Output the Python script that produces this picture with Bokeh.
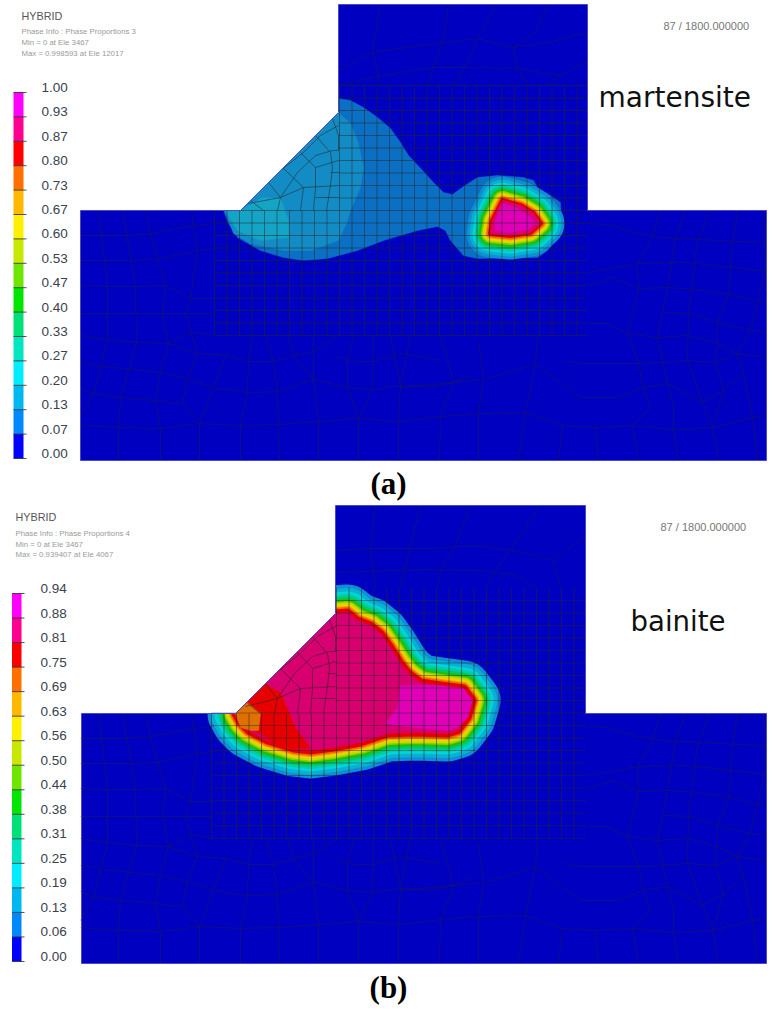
from bokeh.plotting import figure
from bokeh.embed import file_html
from bokeh.resources import INLINE
from bokeh.core.properties import value

# ---------- legend data ----------
LABELS_A = ["0.00","0.07","0.13","0.20","0.27","0.33","0.40","0.47","0.53","0.60","0.67","0.73","0.80","0.87","0.93","1.00"]
LABELS_B = ["0.00","0.06","0.13","0.19","0.25","0.31","0.38","0.44","0.50","0.56","0.63","0.69","0.75","0.81","0.88","0.94"]
LEVEL_COLORS = ["#0000ff","#0088ff","#00b8f0","#00ecff","#00e6c0","#00e078","#00e600","#6ee600",
                "#c8e800","#fff000","#ffb800","#ff7000","#ff0000","#ff0090","#ff00ff"]

# ---------- part outlines ----------
OUT_A = [(80,210),(240,210),(338,112),(338,4),(587,4),(587,210),(766,210),(766,460),(80,460)]
OUT_B = [(81,713),(235,713),(335,613),(335,505),(585,505),(585,713),(766,713),(766,963),(81,963)]
MASK_A = [(190,60),(338,60),(338,112),(240,210),(190,210)]
MASK_B = [(190,560),(335,560),(335,613),(235,713),(190,713)]

# ---------- phase fields ----------
BASE_A = [(338,98),(350,100),(363,107),(377,117),(390,128),(400,142),(408,155),(422,170),(433,182),(443,192),
          (452,194),(463,186),(477,177),(497,175),(523,177),(533,180),(537,187),(550,195),(560,202),(561,220),
          (558,237),(547,250),(537,257),(477,258),(463,255),(450,240),(445,230),(437,226),(417,230),(383,240),
          (357,250),(327,258),(303,260),(283,257),(260,250),(237,237),(228,223),(223,210),(240,210),(338,112)]
TONE2_A = [(338,112),(350,123),(358,143),(363,167),(360,187),(350,210),(346,223),(338,240),(310,250),(283,250),
           (250,243),(233,233),(225,211),(240,210)]
TONE3_A = [(240,210),(262,197),(280,198),(288,220),(288,237),(260,240),(237,230),(225,211)]
RIDGE_A = [(502,200),(520,205),(533,213),(540,223),(530,232),(510,235),(490,233),(492,220)]
PINK_CORE_A = [(502,203),(517,208),(530,217),(535,223),(527,229),(507,232),(495,230),(495,220)]
RIDGE_B = [(335,613),(347,612),(357,620),(370,625),(380,633),(390,647),(400,663),(408,673),(420,682),(440,685),
           (463,688),(472,700),(467,717),(457,730),(447,733),(413,732),(387,733),(360,742),(333,747),(310,750),
           (293,748),(267,740),(248,730),(240,722),(235,713)]
MAGENTA_B = [(400,685),(440,685),(463,688),(472,700),(467,717),(457,727),(447,730),(413,727),(385,723),(397,707)]
RED_B = [(248,700),(263,683),(280,692),(295,727),(310,748),(280,747),(260,733),(247,727),(243,713)]
ORANGE_B = [(235,713),(247,702),(260,713),(258,730),(250,730),(240,727)]

BAND_COLORS = ["#0f8ed0","#08b0d4","#00d4dc","#00cfa6","#00c868","#20c000","#80d000","#d0d800","#f0d000","#f0a000","#ee6a00","#e60000"]
BAND_REACH_A = [24,21,18,16,13.5,11.5,9.5,8,6.5,5,4,2.5]
BAND_REACH_B = [28,24.5,21,18.5,16,13.5,11.5,10,8,6.5,5.5,4]

# ---------- regular mesh ----------
GRID_H_A = [85,97.5,110,122.5,135,147.5,160,172.5,185,197.5,210,222.5,235,247.5,260,272.5,285,297.5,310,322.5,335]
GRID_V_A = [214,226.5,239,251.5,264,276.5,289,301.5,314,326.5,339,351.5,364,376.5,389,401.5,414,426.5,439,451.5,464,476.5,489,501.5,514,526.5,539,551.5,564,576.5]
GRID_H_B = [600,612.5,625,637.5,650,662.5,675,687.5,700,712.5,725,737.5,750,762.5,775,787.5,800,812.5,825,838]
GRID_V_B = [211,223.5,236,248.5,261,273.5,286,298.5,311,323.5,336,348.5,361,373.5,386,398.5,411,423.5,436,448.5,461,473.5,486,498.5,511,523.5,536,548.5,561,573.5]

# ---------- free mesh below and beside the block ----------
FREE = [
 [(80,235),(125,235),(150,233),(193,225),(213,223)],
 [(80,260),(128,260),(157,259),(197,250),(213,248)],
 [(80,285),(107,286),(135,286),(165,285),(190,298),(213,298)],
 [(80,313),(107,313),(135,313),(162,313),(185,313),(213,313)],
 [(80,335),(107,339),(135,342),(168,343),(190,331),(213,335)],
 [(168,343),(197,353),(225,355),(248,361),(273,361),(293,355),(313,351),(337,335)],
 [(337,357),(355,361),(373,361),(400,353),(440,360)],
 [(80,362),(102,366),(132,369),(160,372),(187,378),(213,387),(247,392),(277,391),(313,379),(347,387),(372,389),(400,385),(430,387),(453,382),(470,375)],
 [(80,388),(92,393),(122,397),(153,400),(182,403),(199,423),(240,425),(278,424),(318,421),(358,418),(398,421),(440,416)],
 [(80,424),(118,427),(158,428),(199,423)],
 [(440,416),(483,413),(525,412),(562,425),(595,427),(632,425),(673,429),(712,427),(752,417),(766,415)],
 [(400,387),(453,382),(483,379),(515,370),(535,363),(550,375),(580,397),(617,397),(643,387),(667,383),(702,402),(723,390),(743,373)],
 [(563,360),(580,363),(613,363),(642,363),(687,360),(715,362),(737,353)],
 [(588,223),(607,224),(637,233),(663,237),(697,239),(765,242)],
 [(588,272),(610,268),(637,263),(687,262),(733,267),(765,271)],
 [(588,285),(612,277),(638,288),(667,287),(697,289),(728,294),(763,302)],
 [(588,323),(607,323),(627,333),(657,337),(687,335),(715,342),(737,353),(765,357)],
 [(663,312),(690,313),(717,322),(750,330),(766,332)],
 [(98,210),(107,285),(107,340),(93,393),(80,417)],
 [(122,210),(135,286),(136,342),(128,370),(120,397),(118,427),(118,460)],
 [(145,210),(150,233),(157,259),(165,285),(162,313),(168,343),(160,370),(155,400),(160,430),(160,460)],
 [(191,210),(197,250),(190,298),(185,313),(190,331),(197,353),(187,378),(182,403)],
 [(225,355),(213,387),(199,423),(199,460)],
 [(252,335),(248,361),(247,392),(240,425),(240,460)],
 [(265,335),(273,361),(277,391),(278,424),(279,460)],
 [(288,335),(293,355),(313,379),(318,421),(318,460)],
 [(313,335),(313,379)],
 [(353,335),(347,360),(347,387),(358,418),(358,460)],
 [(373,335),(372,389),(358,418)],
 [(390,335),(400,385)],
 [(410,335),(400,385),(398,421),(398,460)],
 [(440,335),(453,382),(440,416),(439,460)],
 [(478,340),(483,379),(478,413),(478,460)],
 [(537,335),(535,363),(525,412),(518,460)],
 [(562,425),(558,460)],
 [(595,427),(598,460)],
 [(660,210),(652,237),(637,263),(638,288),(627,333),(638,363),(643,387),(650,407),(632,425),(638,460)],
 [(685,210),(675,238),(667,287),(657,337),(667,383),(673,405),(673,429),(678,460)],
 [(710,210),(697,240),(688,313),(687,360),(702,402),(712,427),(718,460)],
 [(737,210),(732,242),(728,294),(717,322),(715,362),(723,390),(712,427)],
 [(763,210),(765,267),(750,330),(737,353),(743,373),(752,417),(757,460)],
]
WEDGE_A = [
 [(250,200),(263,210)],
 [(268,182),(280,197),(277,210)],
 [(283,168),(303,187),(300,210)],
 [(300,152),(315,167),(315,187),(313,210)],
 [(315,135),(330,152),(332,167),(330,185),(326,210)],
 [(332,118),(338,135),(338,150)],
 [(248,203),(280,197),(303,187),(338,185)],
 [(255,195),(280,170),(303,152),(320,135),(338,125)],
 [(280,197),(297,172),(315,155),(332,150),(338,150)],
 [(315,167),(338,160)],
 [(330,172),(338,172)],
 [(315,197),(338,197)],
]
WEDGE_B = [
 [(247,703),(260,713)],
 [(265,683),(277,698),(274,713)],
 [(280,668),(300,688),(297,713)],
 [(297,652),(312,668),(312,688),(310,713)],
 [(312,636),(327,653),(329,668),(327,686),(323,713)],
 [(329,619),(335,636),(335,651)],
 [(245,706),(277,698),(300,688),(335,686)],
 [(252,696),(277,671),(300,653),(317,636),(335,626)],
 [(277,698),(294,673),(312,656),(329,651),(335,651)],
 [(312,668),(335,661)],
 [(327,673),(335,673)],
 [(312,698),(335,698)],
]
TOP_A = [
 [(338,70),(370,52),(420,45),(477,38),(513,47),(547,42),(587,32)],
 [(338,85),(380,75),(433,67),(465,67),(517,68),(560,75),(587,60)],
 [(448,5),(442,42),(433,67),(427,85)],
 [(495,5),(477,38),(465,67),(453,85)],
 [(547,5),(535,32),(513,47),(517,68),(528,85)],
 [(380,5),(372,50),(380,85)],
 [(560,75),(545,85)],
]
TOP_B = [
 [(335,550),(370,548),(435,548),(470,545),(510,549),(553,560),(585,535)],
 [(335,572),(420,569),(485,570),(515,575),(535,587)],
 [(470,505),(455,545),(440,570),(437,587)],
 [(540,505),(510,549),(495,570),(485,587)],
 [(420,505),(410,545),(400,587)],
 [(553,560),(560,587)],
 [(375,505),(370,548),(375,587)],
]
SHIFT_B = 503

TXT_A = ["HYBRID","Phase Info : Phase Proportions 3","Min = 0 at Ele 3467","Max = 0.998593 at Ele 12017"]
TXT_B = ["HYBRID","Phase Info : Phase Proportions 4","Min = 0 at Ele 3467","Max = 0.939407 at Ele 4067"]
STEP_TEXT = "87 / 1800.000000"

p = figure(width=772, height=1009, x_range=(0,772), y_range=(1009,0),
           output_backend="svg", toolbar_location=None, min_border=0, outline_line_color=None)
p.xaxis.visible = False
p.yaxis.visible = False
p.grid.visible = False
p.background_fill_color = "white"

def xy(pts):
    return [a for a,_ in pts],[b for _,b in pts]

def fill(pts,color):
    x,y = xy(pts)
    p.patch(x,y,fill_color=color,line_color=color,line_width=0.5)

def ring(pts,reaches):
    x,y = xy(pts)
    for c,r in zip(BAND_COLORS,reaches):
        p.patch(x,y,fill_color=c,line_color=c,line_width=2*r,line_join="round")

def mesh(lines,alpha=0.5,dy=0):
    p.multi_line([[a for a,_ in l] for l in lines],[[b+dy for _,b in l] for l in lines],
                 line_color="#262626",line_alpha=alpha,line_width=0.9)

def outline(pts):
    x,y = xy(pts)
    p.patch(x,y,fill_color=None,line_color="#4a4ac8",line_width=1)

# panel a field
x,y = xy(OUT_A); p.patch(x,y,fill_color="#0000c0",line_color=None)
fill(BASE_A,"#0b70c4"); fill(TONE2_A,"#138cc6"); fill(TONE3_A,"#14a4c6")
ring(RIDGE_A,BAND_REACH_A); fill(RIDGE_A,"#dc0078"); fill(PINK_CORE_A,"#e000b8")
fill(MASK_A,"white")
# panel b field
x,y = xy(OUT_B); p.patch(x,y,fill_color="#0000c0",line_color=None)
ring(RIDGE_B,BAND_REACH_B); fill(RIDGE_B,"#d80070"); fill(MAGENTA_B,"#e000b8")
fill(RED_B,"#e60000"); fill(ORANGE_B,"#e07000")
fill(MASK_B,"white")

# regular meshes
grid_a = []
for yy in GRID_H_A:
    grid_a.append([(214 if yy>=210 else 338,yy),(587,yy)])
for xx in GRID_V_A:
    grid_a.append([(xx,85 if xx>=338 else 210),(xx,335)])
grid_b_h = []
grid_b_v = []
for yy in GRID_H_B:
    grid_b_h.append([(211 if yy>=712 else 335,yy),(585,yy)])
for xx in GRID_V_B:
    grid_b_v.append([(xx,587 if xx>=335 else 713),(xx,838)])
mesh(grid_a,0.56); mesh(grid_b_v,0.6); mesh(grid_b_h,0.48)
mesh(FREE,0.42); mesh(FREE,0.42,dy=SHIFT_B)
mesh(TOP_A,0.42); mesh(TOP_B,0.42)
mesh(WEDGE_A,0.62); mesh(WEDGE_B,0.62)
outline(OUT_A); outline(OUT_B)

# legends
def legend(labels,x0,x1,top,bottom,lab_x):
    n = len(LEVEL_COLORS)
    step = (bottom-top)/n
    for i,c in enumerate(LEVEL_COLORS):
        p.quad(left=x0,right=x1,bottom=bottom-i*step,top=bottom-(i+1)*step,fill_color=c,line_color=None)
    p.segment([x0]*(n+1),[bottom-i*step for i in range(n+1)],[x1+3]*(n+1),[bottom-i*step for i in range(n+1)],
              line_color="#303030",line_width=1,line_alpha=0.85)
    p.text([lab_x]*(n+1),[bottom-i*step-5 for i in range(n+1)],text=labels,text_font=value("Liberation Sans"),
           text_font_size="13.5px",text_color="#3a424c",text_baseline="middle",text_align="left")
legend(LABELS_A,13,23,92,458,41)
legend(LABELS_B,11.5,21,593,961,40)

def t(x,y,s,font,size,color,align="left",base="middle",style="normal"):
    p.text([x],[y],text=[s],text_font=value(font),text_font_size=size,text_color=color,
           text_align=align,text_baseline=base,text_font_style=style)

for txt,x0,ys in [(TXT_A,21,(15,31,42,52.5)),(TXT_B,15,(516,532.5,543.5,554))]:
    t(x0,ys[0],txt[0],"Liberation Sans","10.8px","#555555")
    for s,yy in zip(txt[1:],ys[1:]):
        t(x0,yy,s,"Liberation Sans","7.8px","#9a9a9a")
t(663,25,STEP_TEXT,"Liberation Sans","11px","#777777")
t(660,526,STEP_TEXT,"Liberation Sans","11px","#777777")
t(598,97,"martensite","DejaVu Sans","28px","#111111",base="alphabetic")
t(630,621,"bainite","DejaVu Sans","27.6px","#111111",base="alphabetic")
t(388,483,"(a)","Liberation Serif","31px","#000000",align="center",style="bold")
t(388,987,"(b)","Liberation Serif","31px","#000000",align="center",style="bold")

open("out.html","w").write(file_html(p,INLINE))
